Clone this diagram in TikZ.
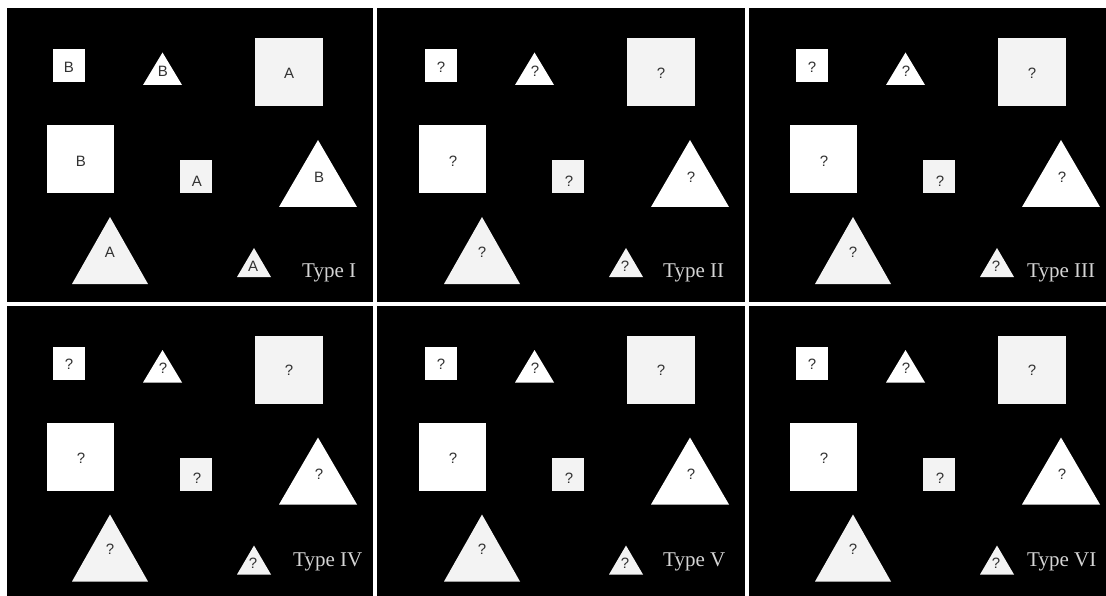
\documentclass[tikz,border=0pt]{standalone}
\usepackage{fontspec}
\setmainfont{Liberation Serif}
\newfontfamily\lettfont{Liberation Sans}
\definecolor{shapegray}{RGB}{243,243,243}
\definecolor{lettcol}{RGB}{50,50,50}
\definecolor{typecol}{RGB}{212,212,212}
\tikzset{
  panelbg/.style={fill=black},
  wshape/.style={fill=white},
  gshape/.style={fill=shapegray},
  lett/.style={inner sep=0pt, font=\lettfont\fontsize{15}{15}\selectfont, text=lettcol},
  typelab/.style={inner sep=0pt, anchor=base west, font=\fontsize{21}{21}\selectfont, text=typecol},
}
\newcommand\setltrs[8]{\def\ltrA{#1}\def\ltrB{#2}\def\ltrC{#3}\def\ltrD{#4}\def\ltrE{#5}\def\ltrF{#6}\def\ltrG{#7}\def\ltrH{#8}}
\newcommand\shapepanel[6]{%
  \begin{scope}[shift={(#2,#3)}]
    \fill[wshape] (53,49) rectangle (85,82);
    \node[lett] (#1-a) at (69,67) {\ltrA};
    \fill[wshape] (143,85) -- (162.5,52.5) -- (182,85) -- cycle;
    \node[lett] (#1-b) at (163,71) {\ltrB};
    \fill[gshape] (255,38) rectangle (323,106);
    \node[lett] (#1-c) at (289,73) {\ltrC};
    \fill[wshape] (47,125) rectangle (114,193);
    \node[lett] (#1-d) at (81,161) {\ltrD};
    \fill[gshape] (180,160) rectangle (212,193);
    \node[lett] (#1-e) at (197,181) {\ltrE};
    \fill[wshape] (279,207) -- (318,140) -- (357,207) -- cycle;
    \node[lett] (#1-f) at (319,177) {\ltrF};
    \fill[gshape] (72,284) -- (110,217) -- (148,284) -- cycle;
    \node[lett] (#1-g) at (110,252) {\ltrG};
    \fill[gshape] (237,277) -- (254,248) -- (271,277) -- cycle;
    \node[lett] (#1-h) at (253,266) {\ltrH};
    \node[typelab] (#1-t) at (#5,#6) {#4};
  \end{scope}}
\begin{document}
\begin{tikzpicture}[x=1pt,y=-1pt]
  \useasboundingbox (0,0) rectangle (1106,596);
  \fill[white] (0,0) rectangle (1106,596);
  % panels
  \fill[panelbg] (7,8) rectangle (373,302);
  \fill[panelbg] (377,8) rectangle (744.5,302);
  \fill[panelbg] (749,8) rectangle (1106,302);
  \fill[panelbg] (7,306) rectangle (373,596);
  \fill[panelbg] (377,306) rectangle (744.5,596);
  \fill[panelbg] (749,306) rectangle (1106,596);
  \setltrs{B}{B}{A}{B}{A}{B}{A}{A}
  \shapepanel{p1}{0}{0}{Type I}{302}{277}
  \setltrs{?}{?}{?}{?}{?}{?}{?}{?}
  \shapepanel{p2}{372}{0}{Type II}{291}{277}
  \shapepanel{p3}{743}{0}{Type III}{284}{277}
  \shapepanel{p4}{0}{297.5}{Type IV}{293}{269}
  \shapepanel{p5}{372}{297.5}{Type V}{291}{269}
  \shapepanel{p6}{743}{297.5}{Type VI}{284}{269}
\end{tikzpicture}
\end{document}
